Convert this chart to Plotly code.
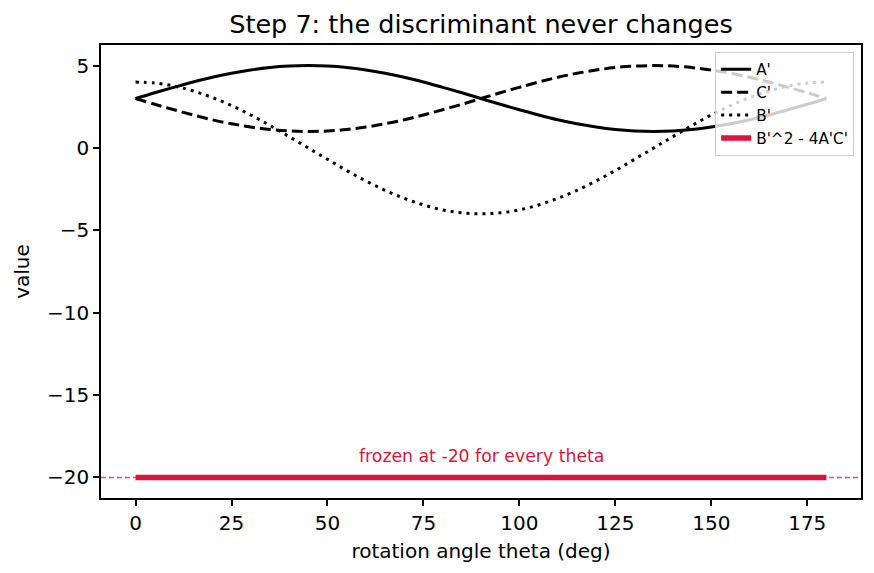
import plotly.graph_objects as go

theta = [0, 5, 10, 15, 20, 25, 30, 35, 40, 45, 50, 55, 60, 65, 70, 75, 80, 85, 90,
         95, 100, 105, 110, 115, 120, 125, 130, 135, 140, 145, 150, 155, 160, 165, 170, 175, 180]
a_prime = [3, 3.35, 3.68, 4, 4.29, 4.53, 4.73, 4.88, 4.97, 5, 4.97, 4.88, 4.73, 4.53, 4.29, 4, 3.68, 3.35, 3,
           2.65, 2.32, 2, 1.71, 1.47, 1.27, 1.12, 1.03, 1, 1.03, 1.12, 1.27, 1.47, 1.71, 2, 2.32, 2.65, 3]
c_prime = [3, 2.65, 2.32, 2, 1.71, 1.47, 1.27, 1.12, 1.03, 1, 1.03, 1.12, 1.27, 1.47, 1.71, 2, 2.32, 2.65, 3,
           3.35, 3.68, 4, 4.29, 4.53, 4.73, 4.88, 4.97, 5, 4.97, 4.88, 4.73, 4.53, 4.29, 4, 3.68, 3.35, 3]
b_prime = [4, 3.94, 3.76, 3.46, 3.06, 2.57, 2, 1.37, 0.69, 0, -0.69, -1.37, -2, -2.57, -3.06, -3.46, -3.76, -3.94, -4,
           -3.94, -3.76, -3.46, -3.06, -2.57, -2, -1.37, -0.69, 0, 0.69, 1.37, 2, 2.57, 3.06, 3.46, 3.76, 3.94, 4]
disc = [-20, -20, -20, -20, -20, -20, -20, -20, -20, -20, -20, -20, -20, -20, -20, -20, -20, -20, -20,
        -20, -20, -20, -20, -20, -20, -20, -20, -20, -20, -20, -20, -20, -20, -20, -20, -20, -20]
frozen_value = -20
x_ticks = [0, 25, 50, 75, 100, 125, 150, 175]
y_ticks = [-20, -15, -10, -5, 0, 5]

CRIMSON = "#dc143c"
FONT = "DejaVu Sans"

fig = go.Figure()
fig.add_trace(go.Scatter(x=theta, y=a_prime, mode="lines", name="A'", legendgroup="a",
                         line=dict(color="black", width=3, shape="spline")))
fig.add_trace(go.Scatter(x=theta, y=c_prime, mode="lines", name="C'", legendgroup="c",
                         line=dict(color="black", width=3, dash="11px,5px", shape="spline")))
fig.add_trace(go.Scatter(x=theta, y=b_prime, mode="lines", name="B'", legendgroup="b",
                         line=dict(color="black", width=3, dash="3px,5px", shape="spline")))
fig.add_trace(go.Scatter(x=theta, y=disc, mode="lines", name="B'^2 - 4A'C'", legendgroup="d",
                         line=dict(color=CRIMSON, width=5.5)))

fig.add_shape(type="line", xref="paper", yref="y", x0=0, x1=1, y0=frozen_value, y1=frozen_value,
              line=dict(color="rgba(220,20,60,0.75)", width=1.5, dash="5px,3px"), layer="below")

fig.add_annotation(x=90, y=-18.7, text="frozen at -20 for every theta", showarrow=False,
                   font=dict(family=FONT, size=17.3, color=CRIMSON), xanchor="center", yanchor="middle")

axis_common = dict(showline=True, linecolor="black", linewidth=1.7, mirror=True,
                   ticks="outside", ticklen=6, tickwidth=1.6, tickcolor="black",
                   showgrid=False, zeroline=False,
                   tickfont=dict(family=FONT, size=20, color="black"))

fig.update_layout(
    width=874, height=573,
    margin=dict(l=101, r=13, t=45, b=75),
    plot_bgcolor="white", paper_bgcolor="white",
    font=dict(family=FONT, color="black"),
    title=dict(text="Step 7: the discriminant never changes", xref="paper", x=0.5, xanchor="center",
               y=1 - 24 / 573, yanchor="middle",
               font=dict(family=FONT, size=25.5, color="black")),
    xaxis=dict(range=[-9, 189], tickvals=x_ticks,
               title=dict(text="rotation angle theta (deg)", font=dict(family=FONT, size=20), standoff=10),
               **axis_common),
    yaxis=dict(range=[-21.25, 6.25], tickvals=y_ticks,
               title=dict(text="value", font=dict(family=FONT, size=20), standoff=12),
               **axis_common),
    legend=dict(x=0.991, y=0.985, xanchor="right", yanchor="top",
                bgcolor="rgba(255,255,255,0.8)", bordercolor="#cccccc", borderwidth=1,
                font=dict(family=FONT, size=15.3, color="black"),
                tracegroupgap=2, traceorder="normal", itemwidth=30),
    showlegend=True,
)

fig.write_html("out.html")
